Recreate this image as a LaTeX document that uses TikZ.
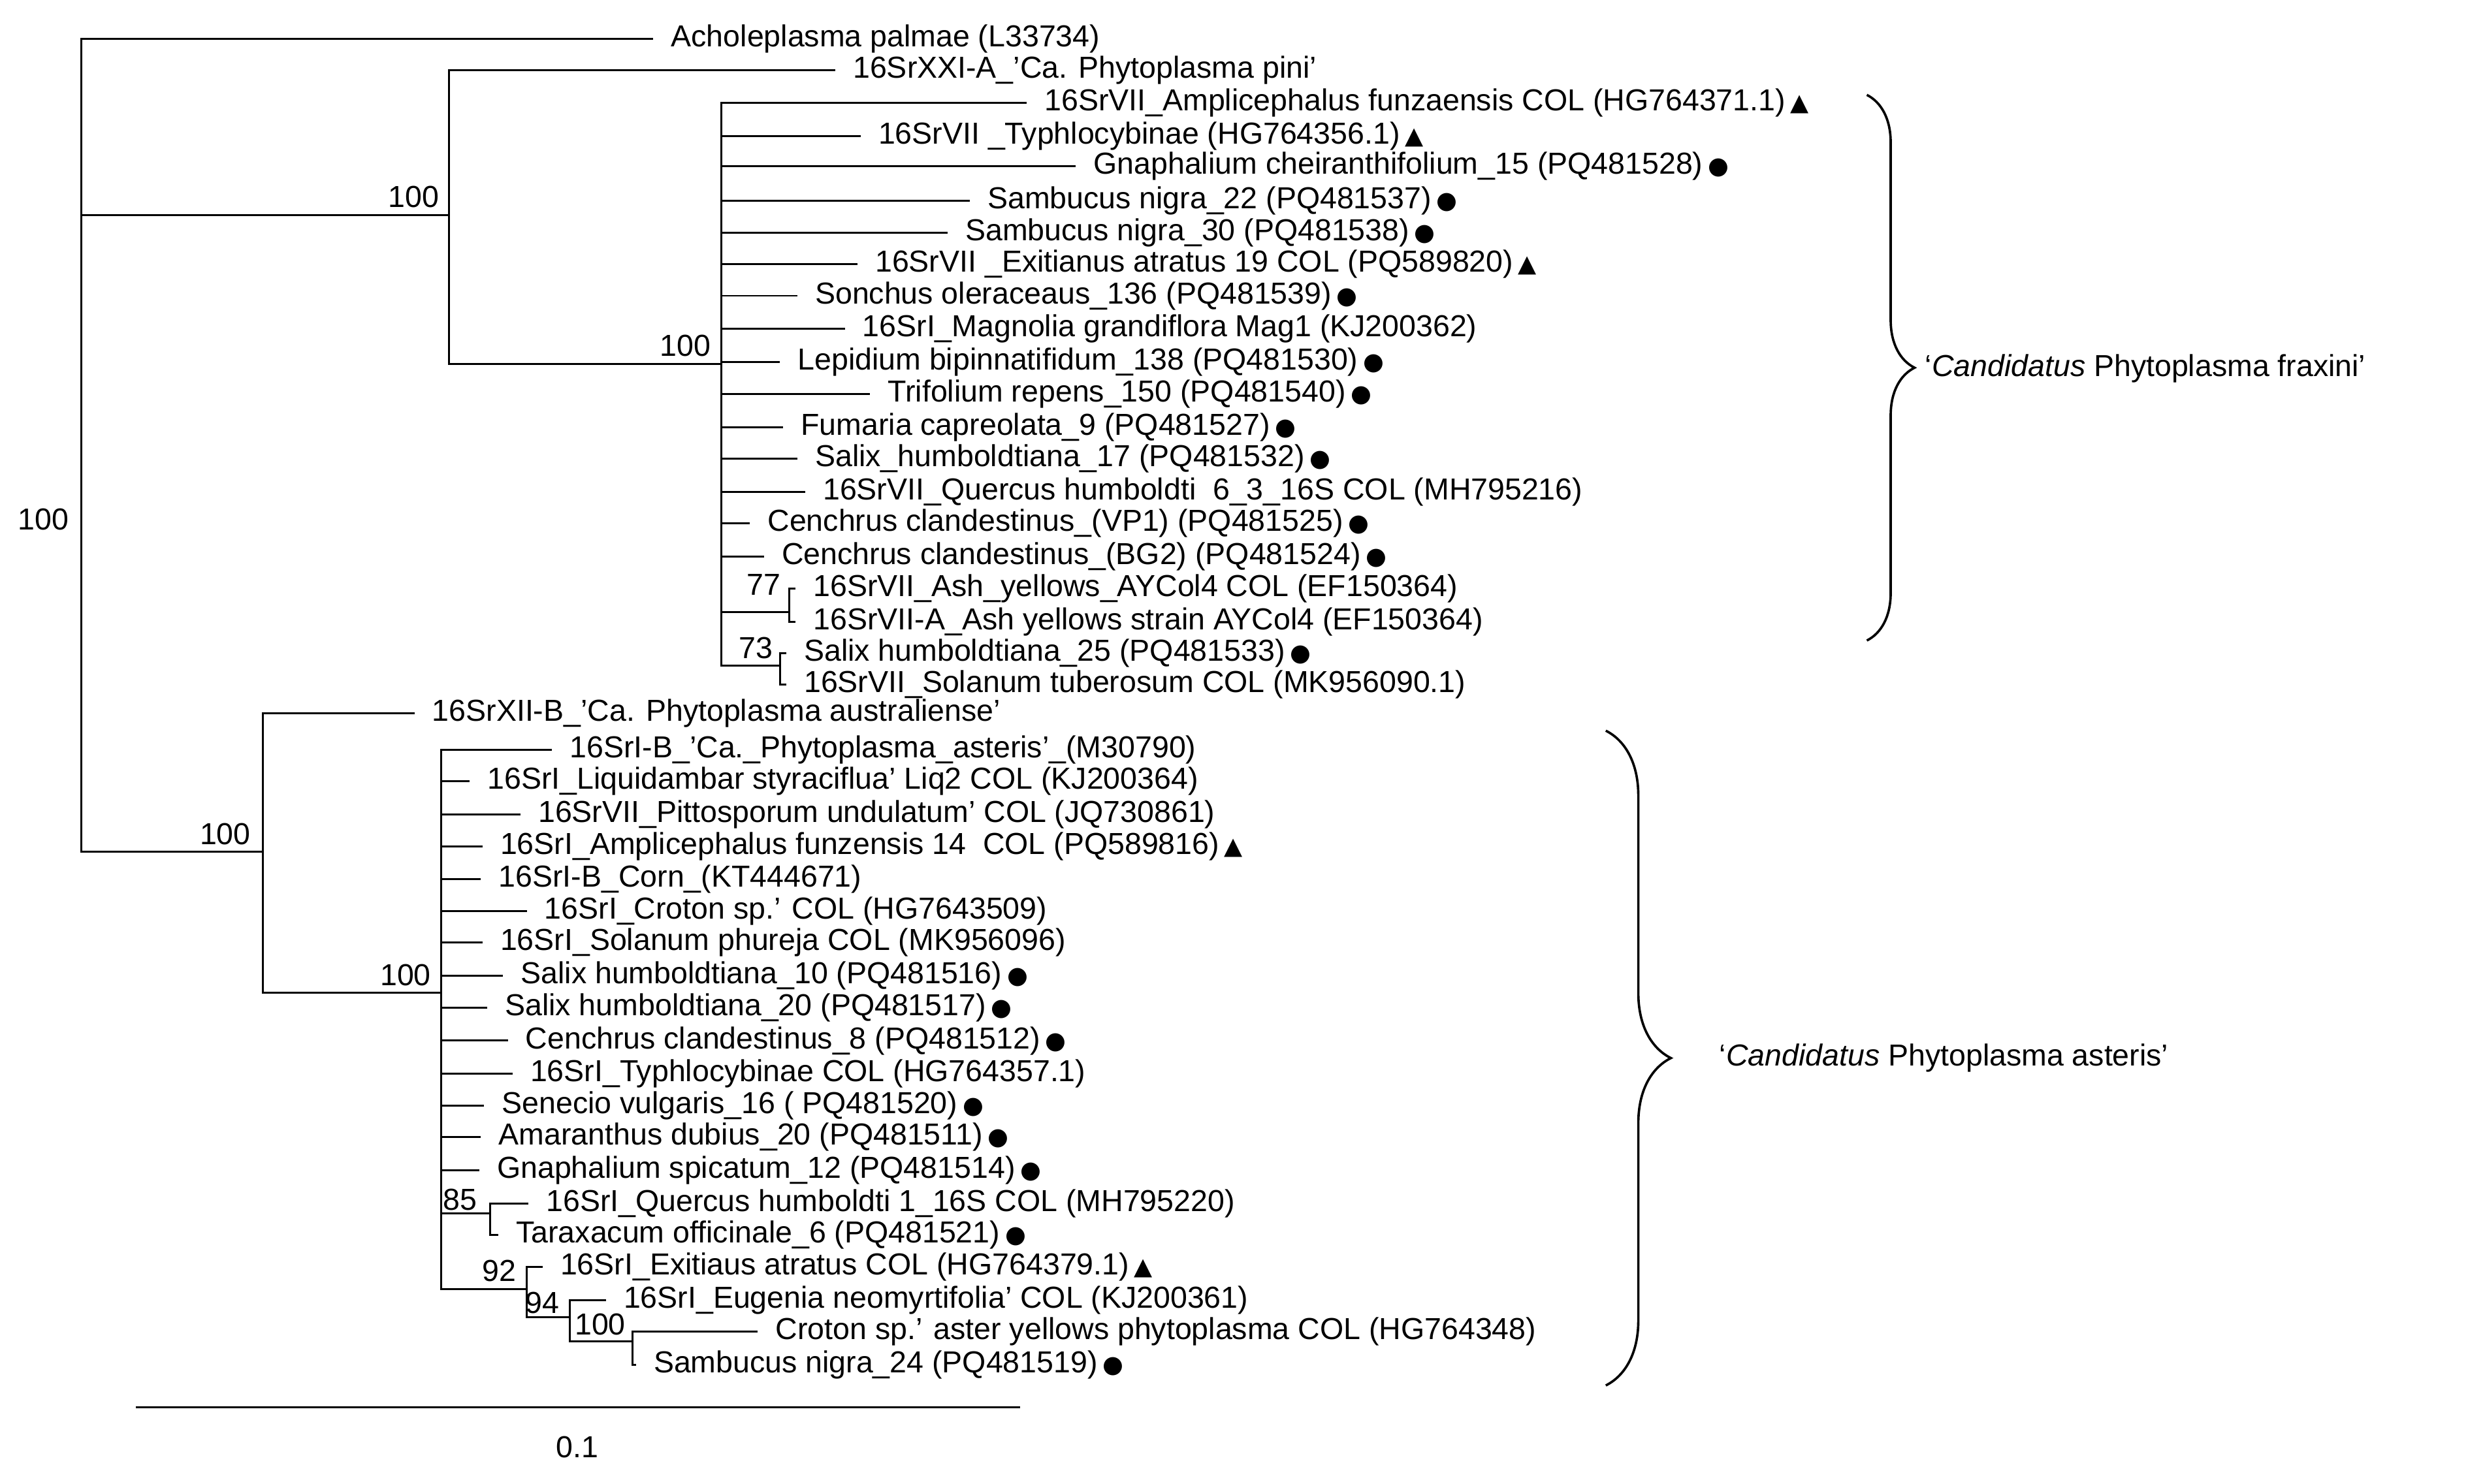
\documentclass[tikz,border=0pt]{standalone}
\usepackage{fontspec}
\setmainfont{Liberation Sans}
\newfontfamily\djv{DejaVu Sans}
\usetikzlibrary{decorations.pathreplacing}
\newcommand{\dotm}{\,{\djv\fontsize{11}{11}\selectfont●}}
\newcommand{\trim}{\,{\djv\fontsize{11}{11}\selectfont▲}}
\begin{document}
\begin{tikzpicture}[x=0.02564cm,y=-0.02564cm,
  every node/.style={font=\fontsize{14}{14}\selectfont},
  leaf/.style={anchor=west,inner xsep=8pt,inner ysep=1pt},
  bs/.style={anchor=south east,inner sep=1pt},
  br/.style={line width=0.9pt}]
\useasboundingbox[fill=white] (0,0) rectangle (1560,938.3);
% internal nodes
\coordinate (r) at (51.5,136);
\coordinate (rb) at (51.5,538.5);
\coordinate (u) at (284,136);
\coordinate (uf) at (284,230);
\coordinate (f) at (456,230);
\coordinate (f77) at (456,387);
\coordinate (n77) at (499,387);
\coordinate (f73) at (456,421);
\coordinate (n73) at (493,421);
\coordinate (l) at (166,538.5);
\coordinate (la) at (166,627.6);
\coordinate (a) at (279,627.6);
\coordinate (a85) at (279,767);
\coordinate (n85) at (310,767);
\coordinate (a92) at (279,815);
\coordinate (n92) at (333,815);
\coordinate (m94) at (333,833);
\coordinate (n94) at (360,833);
\coordinate (m100) at (360,848);
\coordinate (n100) at (400,848);
% leaves
\node[leaf] (ach) at (413,24.6) {Acholeplasma palmae (L33734)};
\node[leaf] (xxi) at (528,44.3) {16SrXXI-A\_'Ca. Phytoplasma pini'};
\node[leaf] (f1) at (649,65) {16SrVII\_Amplicephalus funzaensis COL (HG764371.1)\trim};
\node[leaf] (f2) at (544,86) {16SrVII \_Typhlocybinae (HG764356.1)\trim};
\node[leaf] (f3) at (680,105) {Gnaphalium cheiranthifolium\_15 (PQ481528)\dotm};
\node[leaf] (f4) at (613,127) {Sambucus nigra\_22 (PQ481537)\dotm};
\node[leaf] (f5) at (599,147) {Sambucus nigra\_30 (PQ481538)\dotm};
\node[leaf] (f6) at (542,167) {16SrVII \_Exitianus atratus 19 COL (PQ589820)\trim};
\node[leaf] (f7) at (504,187) {Sonchus oleraceaus\_136 (PQ481539)\dotm};
\node[leaf] (f8) at (534,208) {16SrI\_Magnolia grandiflora Mag1 (KJ200362)};
\node[leaf] (f9) at (493,229) {Lepidium bipinnatifidum\_138 (PQ481530)\dotm};
\node[leaf] (f10) at (550,249) {Trifolium repens\_150 (PQ481540)\dotm};
\node[leaf] (f11) at (495,270) {Fumaria capreolata\_9 (PQ481527)\dotm};
\node[leaf] (f12) at (504,290) {Salix\_humboldtiana\_17 (PQ481532)\dotm};
\node[leaf] (f13) at (509,311) {16SrVII\_Quercus humboldti\ \ 6\_3\_16S COL (MH795216)};
\node[leaf] (f14) at (474,331) {Cenchrus clandestinus\_(VP1) (PQ481525)\dotm};
\node[leaf] (f15) at (483,352) {Cenchrus clandestinus\_(BG2) (PQ481524)\dotm};
\node[leaf] (f16) at (503,372) {16SrVII\_Ash\_yellows\_AYCol4 COL (EF150364)};
\node[leaf] (f17) at (503,393) {16SrVII-A\_Ash yellows strain AYCol4 (EF150364)};
\node[leaf] (f18) at (497,413) {Salix humboldtiana\_25 (PQ481533)\dotm};
\node[leaf] (f19) at (497,433) {16SrVII\_Solanum tuberosum COL (MK956090.1)};
\node[leaf] (aus) at (262,451) {16SrXII-B\_'Ca. Phytoplasma australiense'};
\node[leaf] (a1) at (349,474) {16SrI-B\_'Ca.\_Phytoplasma\_asteris'\_(M30790)};
\node[leaf] (a2) at (297,494) {16SrI\_Liquidambar styraciflua' Liq2 COL (KJ200364)};
\node[leaf] (a3) at (329,515) {16SrVII\_Pittosporum undulatum' COL (JQ730861)};
\node[leaf] (a4) at (305,535) {16SrI\_Amplicephalus funzensis 14\ \ COL (PQ589816)\trim};
\node[leaf] (a5) at (304,556) {16SrI-B\_Corn\_(KT444671)};
\node[leaf] (a6) at (333,576) {16SrI\_Croton sp.' COL (HG7643509)};
\node[leaf] (a7) at (305,596) {16SrI\_Solanum phureja COL (MK956096)};
\node[leaf] (a8) at (318,617) {Salix humboldtiana\_10 (PQ481516)\dotm};
\node[leaf] (a9) at (308,637) {Salix humboldtiana\_20 (PQ481517)\dotm};
\node[leaf] (a10) at (321,658) {Cenchrus clandestinus\_8 (PQ481512)\dotm};
\node[leaf] (a11) at (324,679) {16SrI\_Typhlocybinae COL (HG764357.1)};
\node[leaf] (a12) at (306,699) {Senecio vulgaris\_16 ( PQ481520)\dotm};
\node[leaf] (a13) at (304,719) {Amaranthus dubius\_20 (PQ481511)\dotm};
\node[leaf] (a14) at (303,740) {Gnaphalium spicatum\_12 (PQ481514)\dotm};
\node[leaf] (a15) at (334,761) {16SrI\_Quercus humboldti 1\_16S COL (MH795220)};
\node[leaf] (a16) at (315,781) {Taraxacum officinale\_6 (PQ481521)\dotm};
\node[leaf] (a17) at (343,801) {16SrI\_Exitiaus atratus COL (HG764379.1)\trim};
\node[leaf] (a18) at (383,822) {16SrI\_Eugenia neomyrtifolia' COL (KJ200361)};
\node[leaf] (a19) at (479,842) {Croton sp.' aster yellows phytoplasma COL (HG764348)};
\node[leaf] (a20) at (402,863) {Sambucus nigra\_24 (PQ481519)\dotm};
% branches
\draw[br] (r) |- (ach.west);
\draw[br] (r) -- (u);
\draw[br] (r) -- (rb) -- (l);
\draw[br] (u) |- (xxi.west);
\draw[br] (u) -- (uf) -- (f);
\foreach \k in {1,...,15} \draw[br] (f) |- (f\k.west);
\draw[br] (f) -- (f77) -- (n77);
\draw[br] (n77) |- (f16.west); \draw[br] (n77) |- (f17.west);
\draw[br] (f) -- (f73) -- (n73);
\draw[br] (n73) |- (f18.west); \draw[br] (n73) |- (f19.west);
\draw[br] (l) |- (aus.west);
\draw[br] (l) -- (la) -- (a);
\foreach \k in {1,...,14} \draw[br] (a) |- (a\k.west);
\draw[br] (a) -- (a85) -- (n85);
\draw[br] (n85) |- (a15.west); \draw[br] (n85) |- (a16.west);
\draw[br] (a) -- (a92) -- (n92);
\draw[br] (n92) |- (a17.west);
\draw[br] (n92) -- (m94) -- (n94);
\draw[br] (n94) |- (a18.west);
\draw[br] (n94) -- (m100) -- (n100);
\draw[br] (n100) |- (a19.west); \draw[br] (n100) |- (a20.west);
% bootstrap labels
\node[bs] (b1) at (45,337) {100};
\node[bs] (b2) at (279,133) {100};
\node[bs] (b3) at (451,227) {100};
\node[bs] (b4) at (495,378) {77};
\node[bs] (b5) at (490,418) {73};
\node[bs] (b6) at (160,536) {100};
\node[bs] (b7) at (274,625) {100};
\node[bs] (b8) at (303,767) {85};
\node[bs] (b9) at (328,812) {92};
\node[bs] (b10) at (355,832) {94};
\node[bs] (b11) at (397,846) {100};
% scale bar
\coordinate (s0) at (86,890); \coordinate (s1) at (645,890);
\draw[br] (s0) -- (s1);
\node (sl) at (365,915) {0.1};
% braces
\draw[line width=1.1pt,decorate,decoration={brace,amplitude=22pt}] (1180,60) -- (1180,405);
\node[anchor=west] (fr) at (1212,233) {‘\textit{Candidatus} Phytoplasma fraxini’};
\draw[line width=1.1pt,decorate,decoration={brace,amplitude=30pt}] (1015,462) -- (1015,876);
\node[anchor=west] (as) at (1082,669) {‘\textit{Candidatus} Phytoplasma asteris’};
\end{tikzpicture}
\end{document}
